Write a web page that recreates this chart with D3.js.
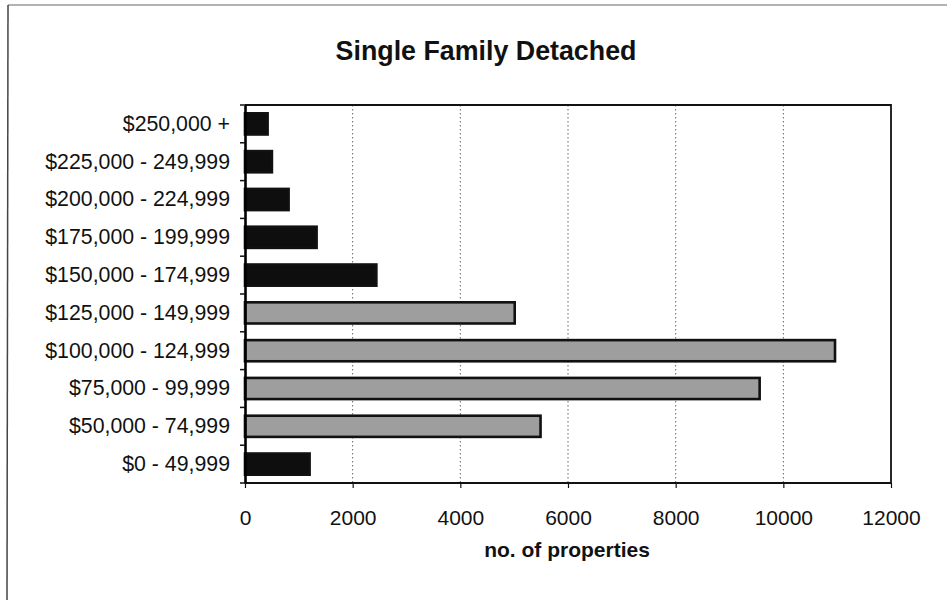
<!DOCTYPE html>
<html>
<head>
<meta charset="utf-8">
<script src="https://cdn.jsdelivr.net/npm/d3@7"></script>
<style>
  html, body { margin: 0; padding: 0; background: #fff; }
  svg { display: block; font-family: "Liberation Sans", Arial, Helvetica, sans-serif; }
</style>
</head>
<body>
<svg id="chart" width="947" height="600"></svg>
<script>
// ---- data ----
const categories = [
  "$250,000 +",
  "$225,000 - 249,999",
  "$200,000 - 224,999",
  "$175,000 - 199,999",
  "$150,000 - 174,999",
  "$125,000 - 149,999",
  "$100,000 - 124,999",
  "$75,000 - 99,999",
  "$50,000 - 74,999",
  "$0 - 49,999"
];
const properties = [420, 500, 810, 1330, 2440, 5010, 10960, 9560, 5490, 1200];
const midRange = ["$125,000 - 149,999", "$100,000 - 124,999", "$75,000 - 99,999", "$50,000 - 74,999"];
const xTicks = [0, 2000, 4000, 6000, 8000, 10000, 12000];
const titleText = "Single Family Detached";
const xTitle = "no. of properties";

// ---- layout ----
const W = 947, H = 600;
const m = { left: 245, right: 891, top: 105, bottom: 483 };
const svg = d3.select("#chart");

// outer page border
svg.append("line").attr("x1", 8).attr("y1", 5).attr("x2", W).attr("y2", 5)
  .attr("stroke", "#999").attr("stroke-width", 1.5);
svg.append("line").attr("x1", 8).attr("y1", 5).attr("x2", 7).attr("y2", H)
  .attr("stroke", "#444").attr("stroke-width", 1.5);

const x = d3.scaleLinear().domain([0, 12000]).range([m.left, m.right]);
const y = d3.scaleBand().domain(categories).range([m.top, m.bottom]).paddingInner(0.44).paddingOuter(0.22);
const yTicks = d3.scaleBand().domain(categories).range([m.top, m.bottom]);

// gridlines
svg.append("g").selectAll("line").data(xTicks.slice(1, -1)).join("line")
  .attr("x1", d => x(d)).attr("x2", d => x(d))
  .attr("y1", m.top).attr("y2", m.bottom)
  .attr("stroke", "#666").attr("stroke-width", 1).attr("stroke-dasharray", "1.5,2.5");

// bars
const data = categories.map((c, i) => ({ c, v: properties[i] }));
svg.append("g").selectAll("rect").data(data).join("rect")
  .attr("x", x(0)).attr("y", d => y(d.c))
  .attr("width", d => x(d.v) - x(0)).attr("height", y.bandwidth())
  .attr("fill", d => midRange.includes(d.c) ? "#9e9e9e" : "#0e0e0e")
  .attr("stroke", "#111").attr("stroke-width", 2.6);

// plot frame (top, right, bottom)
svg.append("path")
  .attr("d", `M${m.left},${m.top}H${m.right}V${m.bottom}H${m.left}`)
  .attr("fill", "none").attr("stroke", "#111").attr("stroke-width", 1.8);

// y axis
const yAxis = d3.axisLeft(y).tickSize(0).tickPadding(15);
const gy = svg.append("g").attr("transform", `translate(${m.left},0)`).call(yAxis);
gy.select(".domain").attr("stroke", "#000").attr("stroke-width", 2.6);
gy.selectAll("text").attr("font-size", 21.3).attr("fill", "#111")
  .attr("font-family", "'Liberation Sans', Arial, sans-serif");
// category boundary ticks
svg.append("g").selectAll("line").data(categories.concat([null])).join("line")
  .attr("x1", m.left - 5).attr("x2", m.left)
  .attr("y1", (d, i) => i < categories.length ? yTicks(d) : m.bottom)
  .attr("y2", (d, i) => i < categories.length ? yTicks(d) : m.bottom)
  .attr("stroke", "#111").attr("stroke-width", 1.5);

// x axis
const xAxis = d3.axisBottom(x).tickValues(xTicks).tickFormat(d3.format("d")).tickSize(5).tickPadding(22);
const gx = svg.append("g").attr("transform", `translate(0,${m.bottom})`).call(xAxis);
gx.select(".domain").remove();
gx.selectAll(".tick line").attr("stroke", "#111").attr("stroke-width", 1.2);
gx.selectAll("text").attr("font-size", 21).attr("fill", "#111")
  .attr("font-family", "'Liberation Sans', Arial, sans-serif");

// titles
svg.append("text").attr("x", 486).attr("y", 60).attr("text-anchor", "middle")
  .attr("font-size", 26.8).attr("font-weight", "bold").attr("fill", "#111").text(titleText);
svg.append("text").attr("x", (m.left + m.right) / 2 - 1).attr("y", 557).attr("text-anchor", "middle")
  .attr("font-size", 21).attr("font-weight", "bold").attr("fill", "#111").text(xTitle);
</script>
</body>
</html>
